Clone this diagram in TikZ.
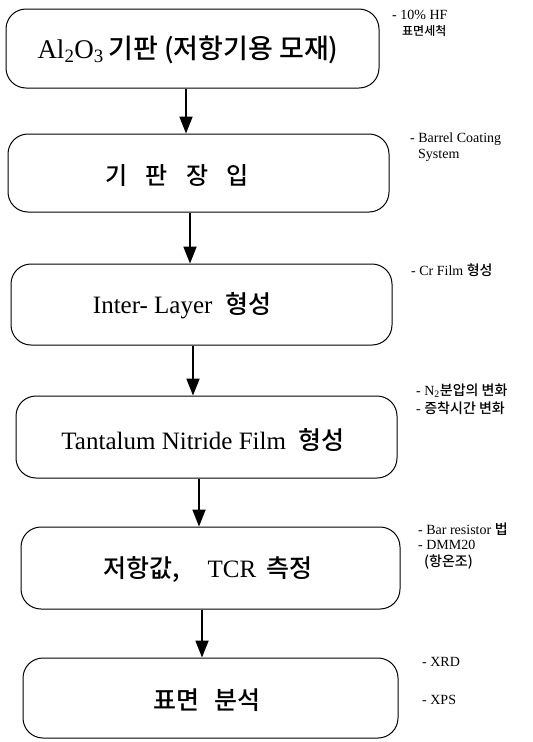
\documentclass[tikz,border=0pt]{standalone}
\usepackage{fontspec}
\setmainfont{Liberation Serif}
\newfontfamily\kr{Noto Sans CJK KR}[BoldFont={Noto Sans CJK KR Medium}]
\usetikzlibrary{arrows.meta}
\begin{document}
\begin{tikzpicture}[x=1pt,y=-1pt,
  stepbox/.style={draw, line width=1pt, rounded corners=20pt, inner sep=0pt},
  flow/.style={line width=1.8pt, -{Triangle[length=17pt,width=13pt]}},
  label/.style={inner sep=0pt, anchor=center},
  note/.style={anchor=west, inner sep=0pt, font=\fontsize{14}{16}\selectfont}]
\useasboundingbox (0,0) rectangle (533,742);

% process boxes
\node (b1) [stepbox, minimum width=373pt, minimum height=79pt] at (192.5,48.5) {};
\node (b2) [stepbox, minimum width=381pt, minimum height=78pt] at (198.5,173) {};
\node (b3) [stepbox, minimum width=381pt, minimum height=81pt] at (201.5,304.5) {};
\node (b4) [stepbox, minimum width=381pt, minimum height=82pt] at (206.5,437) {};
\node (b5) [stepbox, minimum width=379pt, minimum height=82pt] at (210.5,568) {};
\node (b6) [stepbox, minimum width=375pt, minimum height=80pt] at (210.5,698) {};

% box texts
\node (t1) [label, font=\fontsize{27}{30}\selectfont] at (188,50)
  {Al\textsubscript{2}O\textsubscript{3}\,{\kr\bfseries 기판 (저항기용 모재)}};
\node (t2) [label, font=\fontsize{24}{28}\selectfont] at (177,175)
  {\kr\bfseries 기\hspace{0.75em}판\hspace{0.75em}장\hspace{0.75em}입};
\node (t3) [label, font=\fontsize{25}{29}\selectfont] at (182,306)
  {Inter- Layer\hspace{0.5em}{\kr\bfseries 형성}};
\node (t4) [label, font=\fontsize{25}{29}\selectfont] at (203,440)
  {Tantalum Nitride Film\hspace{0.5em}{\kr\bfseries 형성}};
\node (t5) [label, font=\fontsize{25}{29}\selectfont] at (208,570)
  {{\kr\bfseries 저항값,}\hspace{1.1em}TCR\hspace{0.4em}{\kr\bfseries 측정}};
\node (t6) [label, font=\fontsize{25}{29}\selectfont] at (207,700)
  {\kr\bfseries 표면\hspace{0.6em}분석};

% connectors
\draw[flow] ([xshift=-6.5pt]b1.south) -- ([xshift=-12.5pt]b2.north);
\draw[flow] ([xshift=-8.5pt]b2.south) -- ([xshift=-11.5pt]b3.north);
\draw[flow] ([xshift=-8.5pt]b3.south) -- ([xshift=-13.5pt]b4.north);
\draw[flow] ([xshift=-7.5pt]b4.south) -- ([xshift=-11.5pt]b5.north);
\draw[flow] ([xshift=-8.5pt]b5.south) -- ([xshift=-8.5pt]b6.north);

% side notes
\node (n1a) [note] at (392,15) {- 10\% HF};
\node (n1b) [note] at (402,31) {\kr\bfseries\fontsize{12}{14}\selectfont 표면세척};
\node (n2a) [note] at (410,139) {- Barrel Coating};
\node (n2b) [note] at (418,155) {System};
\node (n3) [note] at (411,270) {- Cr Film {\kr\bfseries 형성}};
\node (n4a) [note] at (416,391) {- N\textsubscript{2}{\kr\bfseries 분압의 변화}};
\node (n4b) [note] at (416,408) {- {\kr\bfseries 증착시간 변화}};
\node (n5a) [note] at (418,529) {- Bar resistor {\kr\bfseries 법}};
\node (n5b) [note] at (418,545) {- DMM20};
\node (n5c) [note] at (424,562) {\kr\bfseries (항온조)};
\node (n6a) [note] at (422,662) {- XRD};
\node (n6b) [note] at (422,700) {- XPS};
\end{tikzpicture}
\end{document}
